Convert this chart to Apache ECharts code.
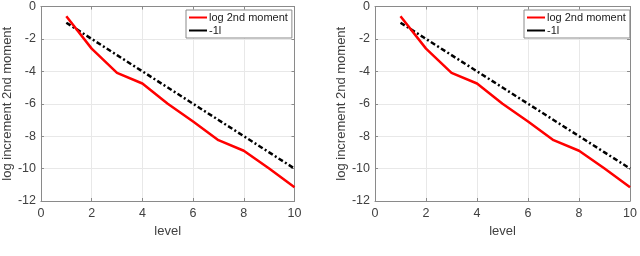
<!DOCTYPE html>
<html><head><meta charset="utf-8">
<script src="https://cdn.jsdelivr.net/npm/echarts@6/dist/echarts.min.js"></script>
<style>html,body{margin:0;padding:0;background:#fff}#c{width:640px;height:256px}</style>
</head><body><div id="c"></div>
<script>
const levels = [1,2,3,4,5,6,7,8,9,10];
const logMoment = [-0.6,-2.6,-4.1,-4.75,-6.0,-7.1,-8.25,-8.9,-10.0,-11.15];
const refLine = [-1,-2,-3,-4,-5,-6,-7,-8,-9,-10];
const xTicks = [0,2,4,6,8,10];
const yTicks = [-12,-10,-8,-6,-4,-2,0];
const nameRed = 'log 2nd moment';
const nameRef = '-1l';
const xTitle = 'level';
const yTitle = 'log increment 2nd moment';

const font = 'Liberation Sans';
const axCol = '#8a8a8a';
const txtCol = '#404040';
const grids = [
  {left:37, right:345.5, top:5, bottom:55},
  {left:375, right:7.5, top:5, bottom:55}
];
const xAxes = [], yAxes = [], series = [], legends = [];
grids.forEach((g, i) => {
  const base = {
    gridIndex:i, type:'value',
    axisLine:{show:true, onZero:false, lineStyle:{color:axCol, width:1}},
    axisTick:{show:true, inside:true, length:3, lineStyle:{color:axCol}},
  };
  xAxes.push(Object.assign({}, base, {
    min:xTicks[0], max:xTicks[xTicks.length-1], interval:2, position:'bottom',
    axisLabel:{color:txtCol, fontFamily:font, fontSize:12.5, margin:6},
    splitLine:{show:true, lineStyle:{color:'#e8e8e8'}},
    name:xTitle, nameLocation:'middle', nameGap:19,
    nameTextStyle:{color:txtCol, fontFamily:font, fontSize:13}
  }));
  xAxes.push(Object.assign({}, base, {
    min:xTicks[0], max:xTicks[xTicks.length-1], interval:2, position:'top',
    axisLabel:{show:false}, splitLine:{show:false}
  }));
  yAxes.push(Object.assign({}, base, {
    min:yTicks[0], max:yTicks[yTicks.length-1], interval:2, position:'left',
    axisLabel:{color:txtCol, fontFamily:font, fontSize:12.5, margin:5},
    splitLine:{show:true, lineStyle:{color:'#e8e8e8'}},
    name:yTitle, nameLocation:'middle', nameGap:23,
    nameTextStyle:{color:txtCol, fontFamily:font, fontSize:13}
  }));
  yAxes.push(Object.assign({}, base, {
    min:yTicks[0], max:yTicks[yTicks.length-1], interval:2, position:'right',
    axisLabel:{show:false}, splitLine:{show:false}
  }));
  series.push({
    type:'line', name:nameRed, xAxisIndex:2*i, yAxisIndex:2*i,
    data:levels.map((l,k)=>[l, logMoment[k]]), showSymbol:false, symbol:'none',
    lineStyle:{color:'#ff0000', width:2.5}, itemStyle:{color:'#ff0000'}, z:3
  });
  series.push({
    type:'line', name:nameRef, xAxisIndex:2*i, yAxisIndex:2*i,
    data:levels.map((l,k)=>[l, refLine[k]]), showSymbol:false, symbol:'none',
    lineStyle:{color:'#000', width:2.5, type:[5,2.5,2,2.5]}, itemStyle:{color:'#000'}, z:2
  });
  const gx = i===0 ? 186 : 524;
  legends.push({
    left:gx, top:10, width:103, orient:'vertical', itemGap:2,
    itemWidth:18, itemHeight:10, padding:[2,4,2,3],
    borderColor:axCol, borderWidth:1, backgroundColor:'#fff',
    textStyle:{color:'#202020', fontFamily:font, fontSize:11, padding:[0,0,0,-3]},
    icon:'path://M0,4L18,4L18,6L0,6Z',
    data:[nameRed, nameRef]
  });
});
const chart = echarts.init(document.getElementById('c'), null, {renderer:'canvas'});
chart.setOption({
  animation:false,
  backgroundColor:'#fff',
  grid:grids,
  xAxis:xAxes, yAxis:yAxes, series:series, legend:legends
});
</script></body></html>
